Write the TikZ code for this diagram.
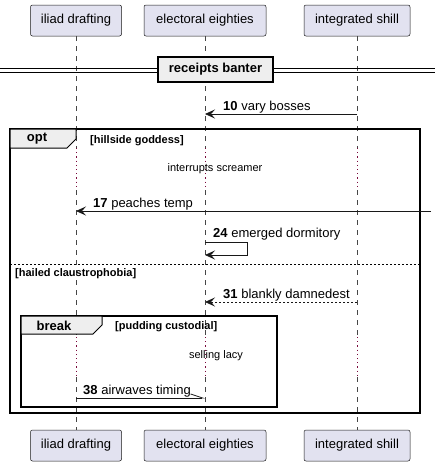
\documentclass[tikz,border=0pt]{standalone}
\usepackage{fontspec}
\setmainfont{Liberation Sans}
\usetikzlibrary{arrows.meta}

\definecolor{partfill}{HTML}{E2E2F0}
\definecolor{partline}{HTML}{181818}
\definecolor{tabfill}{HTML}{EEEEEE}
\definecolor{delaydot}{HTML}{7A0A3C}

\tikzset{
  participant/.style={draw=partline, fill=partfill, rounded corners=2pt,
    line width=0.5pt, minimum height=31pt, inner sep=0pt,
    font=\fontsize{13}{15}\selectfont},
  lifeline/.style={draw=partline!80, line width=0.6pt, dash pattern=on 5pt off 5pt},
  delayline/.style={draw=delaydot, line width=1pt, dash pattern=on 1.2pt off 3pt},
  msg/.style={draw=partline, line width=0.8pt,
    -{Stealth[length=10pt,width=9pt,inset=4pt]}},
  msglabel/.style={anchor=base west, inner sep=0pt, font=\fontsize{13}{15}\selectfont},
  delaylabel/.style={inner sep=0pt, font=\fontsize{11}{13}\selectfont},
  framebox/.style={draw=black, line width=1.5pt},
  tabbox/.style={draw=black, line width=1pt, fill=tabfill},
  framelabel/.style={anchor=base west, inner sep=0pt, font=\bfseries\fontsize{11}{13}\selectfont},
  tablabel/.style={inner sep=0pt, font=\bfseries\fontsize{13}{15}\selectfont},
}

\begin{document}
\begin{tikzpicture}[x=1pt, y=-1pt]
    \useasboundingbox (0,0) rectangle (435,466);

    % Participants
    \foreach \name/\x/\w/\txt in {iliad/76/91/iliad drafting,
        electoral/205/122/electoral eighties,
        integrated/357/106/integrated shill}
    {
    	\node[participant, minimum width=\w pt] (\name-top) at (\x,20.5) {\txt};
    	\node[participant, minimum width=\w pt] (\name-bot) at (\x,445.5) {\txt};
    }

    % Lifelines (dotted during delays)
    \foreach \name in {iliad, electoral, integrated}
    {
    	\coordinate (\name-d1) at (\name-top.south |- 0,148);
    	\coordinate (\name-d2) at (\name-top.south |- 0,190);
    	\coordinate (\name-d3) at (\name-top.south |- 0,337);
    	\coordinate (\name-d4) at (\name-top.south |- 0,377);
    	\draw[lifeline] (\name-top.south) -- (\name-d1);
    	\draw[delayline] (\name-d1) -- (\name-d2);
    	\draw[lifeline] (\name-d2) -- (\name-d3);
    	\draw[delayline] (\name-d3) -- (\name-d4);
    	\draw[lifeline] (\name-d4) -- (\name-bot.north);
    }

    % Divider
    \draw[line width=1pt] (0,68) -- (435,68);
    \draw[line width=1pt] (0,72) -- (435,72);
    \node[draw=black, line width=1.5pt, fill=tabfill, minimum width=115pt,
    	minimum height=25pt, inner sep=0pt, font=\bfseries\fontsize{13}{15}\selectfont]
    	(divider) at (215.5,69.5) {receipts banter};

    % Message 10
    \coordinate (integrated-10) at (integrated-top.south |- 0,114);
    \coordinate (electoral-10) at (electoral-top.south |- 0,114);
    \draw[msg] (integrated-10) -- (electoral-10);
    \node[msglabel] (label-10) at (223,110) {\textbf{10} vary bosses};

    % Opt frame
    \draw[framebox] (10,129) rectangle (420,413);
    \draw[tabbox] (10,129) -- (76,129) -- (76,139) -- (67,148) -- (10,148) -- cycle;
    \node[tablabel] (opt) at (37,139) {opt};
    \node[framelabel] (guard-opt) at (90,143) {[hillside goddess]};

    % Delay
    \node[delaylabel] (delay-1) at (215,169) {interrupts screamer};

    % Message 17
    \coordinate (edge-17) at (431,211);
    \coordinate (iliad-17) at (iliad-top.south |- 0,211);
    \draw[msg] (edge-17) -- (iliad-17);
    \node[msglabel] (label-17) at (93,207) {\textbf{17} peaches temp};

    % Message 24 (self)
    \coordinate (electoral-24a) at (electoral-top.south |- 0,242);
    \coordinate (electoral-24b) at (electoral-top.south |- 0,255);
    \draw[msg] (electoral-24a) -- ++(42,0) -- ++(0,13) -- (electoral-24b);
    \node[msglabel] (label-24) at (213,237) {\textbf{24} emerged dormitory};

    % Else
    \draw[line width=0.6pt, dash pattern=on 2pt off 2pt] (10,264) -- (420,264);
    \node[framelabel] (guard-else) at (15,276) {[hailed claustrophobia]};

    % Message 31
    \coordinate (integrated-31) at (integrated-top.south |- 0,302);
    \coordinate (electoral-31) at (electoral-top.south |- 0,302);
    \draw[msg, dash pattern=on 2pt off 2pt] (integrated-31) -- (electoral-31);
    \node[msglabel] (label-31) at (223,298) {\textbf{31} blankly damnedest};

    % Break frame
    \draw[framebox] (21,316) rectangle (277,407);
    \draw[tabbox] (21,316) -- (102,316) -- (102,325) -- (93,334) -- (21,334) -- cycle;
    \node[tablabel] (break) at (54,326) {break};
    \node[framelabel] (guard-break) at (115,329) {[pudding custodial]};

    % Delay
    \node[delaylabel] (delay-2) at (216,356) {selling lacy};

    % Message 38
    \coordinate (iliad-38) at (iliad-top.south |- 0,398);
    \coordinate (electoral-38) at (electoral-top.south |- 0,398);
    \draw[draw=partline, line width=0.8pt,
    	-{Straight Barb[harpoon, left, length=12pt, width=8pt]}] (iliad-38) -- (electoral-38);
    \node[msglabel] (label-38) at (83,394) {\textbf{38} airwaves timing};
\end{tikzpicture}
\end{document}
